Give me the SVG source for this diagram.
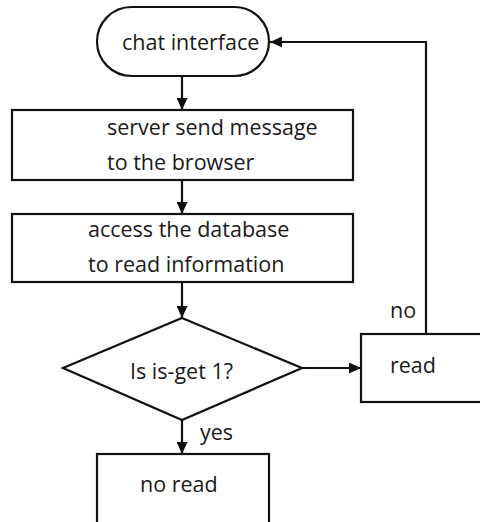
<svg xmlns="http://www.w3.org/2000/svg" width="480" height="522" viewBox="0 0 480 522">
  <style>
    .box { fill: #ffffff; stroke: #111111; stroke-width: 2.2; }
    .edge { fill: none; stroke: #111111; stroke-width: 2.2; }
    text { font-family: "Open Sans", "Noto Sans", "Liberation Sans", sans-serif; font-size: 21.5px; fill: #1a1a1a; }
  </style>
  <defs>
    <marker id="arrow" viewBox="0 0 12 11" refX="12" refY="5.5" markerWidth="12" markerHeight="11" markerUnits="userSpaceOnUse" orient="auto">
      <path d="M0,0 L12,5.5 L0,11 Z" fill="#111111"/>
    </marker>
  </defs>
  <rect width="480" height="522" fill="#ffffff"/>

  <g id="connectors">
    <line class="edge" x1="182" y1="76" x2="182" y2="110" marker-end="url(#arrow)"/>
    <line class="edge" x1="182" y1="180" x2="182" y2="214" marker-end="url(#arrow)"/>
    <line class="edge" x1="182" y1="282" x2="182" y2="318" marker-end="url(#arrow)"/>
    <line class="edge" x1="302" y1="368" x2="361" y2="368" marker-end="url(#arrow)"/>
    <line class="edge" x1="182" y1="420" x2="182" y2="454" marker-end="url(#arrow)"/>
    <polyline class="edge" points="426,334 426,42 270,42" marker-end="url(#arrow)"/>
    <text x="390" y="318">no</text>
    <text x="200" y="440">yes</text>
  </g>

  <g id="chat-interface">
    <rect class="box" x="97" y="7" width="172" height="69" rx="34.5" ry="34.5"/>
    <text x="122" y="50">chat interface</text>
  </g>

  <g id="server-send">
    <rect class="box" x="12" y="110" width="341" height="70"/>
    <text x="107" y="135">server send message</text>
    <text x="107" y="170">to the browser</text>
  </g>

  <g id="access-db">
    <rect class="box" x="12" y="214" width="341" height="68"/>
    <text x="88" y="237">access the database</text>
    <text x="88" y="272">to read information</text>
  </g>

  <g id="is-get">
    <polygon class="box" points="182,318 302,368 182,420 63,368"/>
    <text x="130" y="379">Is is-get 1?</text>
  </g>

  <g id="read">
    <rect class="box" x="361" y="334" width="122" height="68"/>
    <text x="390" y="373">read</text>
  </g>

  <g id="no-read">
    <rect class="box" x="97" y="454" width="172" height="80"/>
    <text x="140" y="492">no read</text>
  </g>
</svg>
